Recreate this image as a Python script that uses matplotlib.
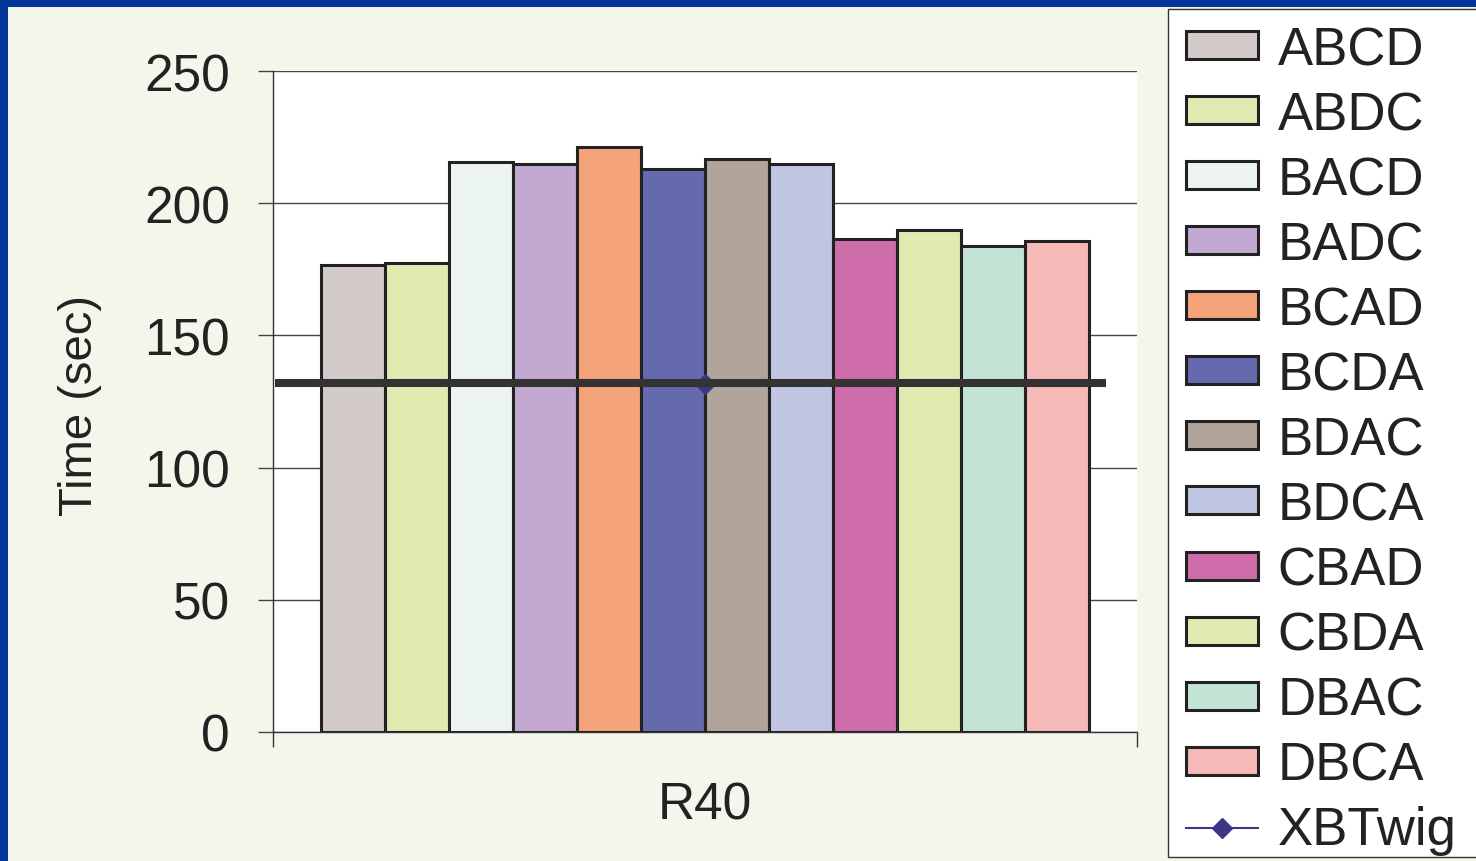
import matplotlib
matplotlib.use("Agg")
import matplotlib.pyplot as plt
from matplotlib.patches import Rectangle
from matplotlib.lines import Line2D

# ---- data ----
category = "R40"
orders = ["ABCD", "ABDC", "BACD", "BADC", "BCAD", "BCDA",
          "BDAC", "BDCA", "CBAD", "CBDA", "DBAC", "DBCA"]
times = [176.5, 177.3, 215.6, 214.8, 221.2, 212.9,
         216.6, 214.8, 186.5, 189.9, 183.8, 185.7]
bar_colors = ["#D3CBC9", "#E1EAB0", "#EBF4F1", "#C3A9D1", "#F4A37A", "#6569AE",
              "#B0A49B", "#C0C6E2", "#CE6DAA", "#E1EAB0", "#C3E4D5", "#F5B9B7"]
xbtwig_label = "XBTwig"
xbtwig_time = 131.6
reference_time = 132.0
y_ticks = [0, 50, 100, 150, 200, 250]

# ---- styling ----
FONT = "Liberation Sans"
BG = "#F3F7EB"
BORDER = "#02349A"
W, H = 1476, 862

plt.rcParams["font.family"] = [FONT, "DejaVu Sans"]

fig = plt.figure(figsize=(W / 100, H / 100), dpi=100, facecolor=BG)

# frame bands along the top and left of the canvas
fig.patches.append(Rectangle((0, 1 - 8 / H), 1, 8 / H, transform=fig.transFigure,
                             facecolor=BORDER, edgecolor="none", zorder=0))
fig.patches.append(Rectangle((0, 0), 8 / W, 1, transform=fig.transFigure,
                             facecolor=BORDER, edgecolor="none", zorder=0))

ax_l, ax_r, ax_t, ax_b = 273, 1137, 72, 733
ax = fig.add_axes([ax_l / W, 1 - ax_b / H, (ax_r - ax_l) / W, (ax_b - ax_t) / H])
ax.set_facecolor("white")

n = len(orders)
group_width = 8 / 9
bw = group_width / n
xs = [-group_width / 2 + bw * (i + 0.5) for i in range(n)]
bars = ax.bar(xs, times, width=bw, color=bar_colors, edgecolor="#222222",
              linewidth=2.2, zorder=3)

# single-point series drawn as a diamond marker
ax.plot([0.0], [xbtwig_time], marker="D", markersize=10,
        color="#3D3585", linewidth=1.5, zorder=4)

# heavy reference line across the bars
ax.hlines(reference_time, -0.4977, 0.464, colors="#333333", linewidth=5.8, zorder=5)

ax.set_xlim(-0.5, 0.5)
ax.set_ylim(0, 250)
ax.set_yticks(y_ticks)
ax.set_yticklabels([str(v) for v in y_ticks])
ax.yaxis.grid(True, color="#444444", linewidth=1.0, zorder=0)
ax.set_axisbelow(True)

ax.set_xticks([0.0])
ax.set_xticklabels([category])
ax.set_xticks([-0.5, 0.5], minor=True)
ax.tick_params(axis="x", which="major", length=0, pad=35, labelsize=37, labelcolor="#222222")
ax.tick_params(axis="x", which="minor", length=10.5, width=1.0, color="#333333", direction="out")
ax.tick_params(axis="y", length=11, width=1.0, color="#444444", direction="out",
               pad=20, labelsize=37, labelcolor="#222222")

for side in ("top", "right"):
    ax.spines[side].set_visible(False)
for side in ("left", "bottom"):
    ax.spines[side].set_color("#333333")
    ax.spines[side].set_linewidth(1.0)

ax.set_ylabel("Time (sec)", fontsize=34, color="#222222")
ax.yaxis.set_label_coords((80 - ax_l) / (ax_r - ax_l), (ax_b - 405) / (ax_b - ax_t))
ax.yaxis.label.set_va("center")

# legend panel
fig.patches.append(Rectangle((1168 / W, 1 - 858 / H), 400 / W, 848 / H,
                             transform=fig.transFigure, facecolor="white",
                             edgecolor="#333333", linewidth=1.0, zorder=1))

handles = list(bars.patches) + [Line2D([], [], color="#3D3585", marker="D",
                                       markersize=10, linewidth=1.5)]
labels = orders + [xbtwig_label]
leg = fig.legend(handles, labels, loc="upper left",
                 bbox_to_anchor=(1186 / W, 1 - 26 / H),
                 frameon=False, fontsize=38, borderpad=0, borderaxespad=0,
                 handlelength=1.36, handleheight=0.44, handletextpad=0.38,
                 labelspacing=0.285, numpoints=1)
for t in leg.get_texts():
    t.set_color("#222222")
leg.set_zorder(2)

fig.savefig("out.png", dpi=100, facecolor=BG)
